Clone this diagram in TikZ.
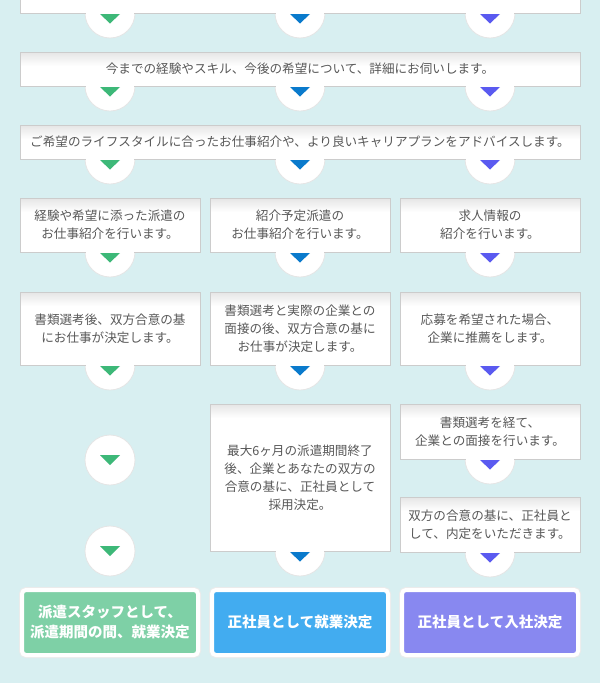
\documentclass[tikz,border=0pt]{standalone}
\usepackage{fontspec}
\setmainfont{Noto Sans CJK JP}
\usetikzlibrary{calc}

\definecolor{pagebg}{RGB}{216,239,241}
\definecolor{txtgray}{RGB}{88,88,88}
\definecolor{linegray}{RGB}{204,204,204}
\definecolor{tipgreen}{RGB}{61,184,120}
\definecolor{tipblue}{RGB}{10,122,204}
\definecolor{tippurple}{RGB}{90,90,240}
\definecolor{endgreen}{RGB}{126,208,166}
\definecolor{endblue}{RGB}{66,172,240}
\definecolor{endpurple}{RGB}{136,136,240}

\pgfdeclarelayer{ground}
\pgfdeclarelayer{under}
\pgfsetlayers{ground,under,main}

% half bubble hanging under a box: name, x, y of box bottom, colour
\newcommand{\bubbletip}[4]{%
  \begin{pgfonlayer}{under}
    \node[bubble] (#1) at (#2,#3) {};
  \end{pgfonlayer}
  \draw[white, line width=1.6pt] (#2-24.2,#3) -- (#2+24.2,#3);
  \fill[#4] (#2-10,#3+1) -- (#2+10,#3+1) -- (#2,#3+10.5) -- cycle;
}
% free standing bubble: name, x, y of centre, colour
\newcommand{\roundtip}[4]{%
  \node[bubble] (#1) at (#2,#3) {};
  \fill[#4] (#2-10,#3-5) -- (#2+10,#3-5) -- (#2,#3+5) -- cycle;
}

\begin{document}
\begin{tikzpicture}[
  x=1pt, y=-1pt,
  panel/.style={draw=linegray, line width=0.8pt, fill=white, align=center, inner sep=0pt,
    text=txtgray, font=\fontsize{12.6}{18}\selectfont,
    path picture={\foreach \k in {0,...,13} {
        \pgfmathsetmacro\pc{10*(1-\k/14)}
        \fill[black!\pc] ([yshift=-\k pt]path picture bounding box.north west)
          rectangle ([yshift=-\k pt-1.05pt]path picture bounding box.north east);}}},
  wide/.style={panel, minimum width=560pt},
  col/.style={panel, minimum width=180pt},
  bubble/.style={circle, fill=white, draw=black!10, line width=0.8pt, minimum size=50pt, inner sep=0pt},
  endbox/.style={draw=white, line width=4pt, rounded corners=4pt, minimum width=176pt, minimum height=65pt,
    align=center, text=white, font=\fontsize{14.5}{20}\selectfont\bfseries,
    preaction={draw=black!8, line width=6pt}}
]
\useasboundingbox (0,0) rectangle (600,683);
\begin{pgfonlayer}{ground}
  \fill[pagebg] (0,0) rectangle (600,683);
\end{pgfonlayer}

% === FULL WIDTH STEPS ===
\node[wide, minimum height=32pt] (s1) at (300,-3) {};
\foreach \x/\c [count=\i] in {110/tipgreen,300/tipblue,490/tippurple}
  {\bubbletip{s1t\i}{\x}{13}{\c}}

\node[wide, minimum height=34pt] (s2) at (300,69) {今までの経験やスキル、今後の希望について、詳細にお伺いします。};
\foreach \x/\c [count=\i] in {110/tipgreen,300/tipblue,490/tippurple}
  {\bubbletip{s2t\i}{\x}{86}{\c}}

\node[wide, minimum height=34pt] (s3) at (300,142) {ご希望のライフスタイルに合ったお仕事紹介や、より良いキャリアプランをアドバイスします。};
\foreach \x/\c [count=\i] in {110/tipgreen,300/tipblue,490/tippurple}
  {\bubbletip{s3t\i}{\x}{159}{\c}}

% === ROW 4: INTRODUCTION ===
\node[col, minimum height=54pt] (haken4) at (110,225) {経験や希望に添った派遣の\\お仕事紹介を行います。};
\node[col, minimum height=54pt] (yotei4) at (300,225) {紹介予定派遣の\\お仕事紹介を行います。};
\node[col, minimum height=54pt] (kyujin4) at (490,225) {求人情報の\\紹介を行います。};
\foreach \x/\c [count=\i] in {110/tipgreen,300/tipblue,490/tippurple}
  {\bubbletip{r4t\i}{\x}{252}{\c}}

% === ROW 5: DECISION / INTERVIEW ===
\node[col, minimum height=73pt] (haken5) at (110,328.5) {書類選考後、双方合意の基\\にお仕事が決定します。};
\node[col, minimum height=73pt] (yotei5) at (300,328.5) {書類選考と実際の企業との\\面接の後、双方合意の基に\\お仕事が決定します。};
\node[col, minimum height=73pt] (kyujin5) at (490,328.5) {応募を希望された場合、\\企業に推薦をします。};
\foreach \x/\c [count=\i] in {110/tipgreen,300/tipblue,490/tippurple}
  {\bubbletip{r5t\i}{\x}{365}{\c}}

% === ROW 6 ===
\roundtip{haken6a}{110}{460}{tipgreen}
\roundtip{haken6b}{110}{551}{tipgreen}

\node[col, minimum height=147pt] (yotei6) at (300,477.5) {最大6ヶ月の派遣期間終了\\後、企業とあなたの双方の\\合意の基に、正社員として\\採用決定。};
\bubbletip{yotei6t}{300}{551}{tipblue}

\node[col, minimum height=55pt] (kyujin6a) at (490,431.5) {書類選考を経て、\\企業との面接を行います。};
\bubbletip{kyujin6at}{490}{459}{tippurple}
\node[col, minimum height=55pt] (kyujin6b) at (490,524.5) {双方の合意の基に、正社員と\\して、内定をいただきます。};
\bubbletip{kyujin6bt}{490}{552}{tippurple}

% === RESULTS ===
\node[endbox, fill=endgreen] (hakenEnd) at (110,622.5) {派遣スタッフとして、\\派遣期間の間、就業決定};
\node[endbox, fill=endblue] (yoteiEnd) at (300,622.5) {正社員として就業決定};
\node[endbox, fill=endpurple] (kyujinEnd) at (490,622.5) {正社員として入社決定};

\end{tikzpicture}
\end{document}
